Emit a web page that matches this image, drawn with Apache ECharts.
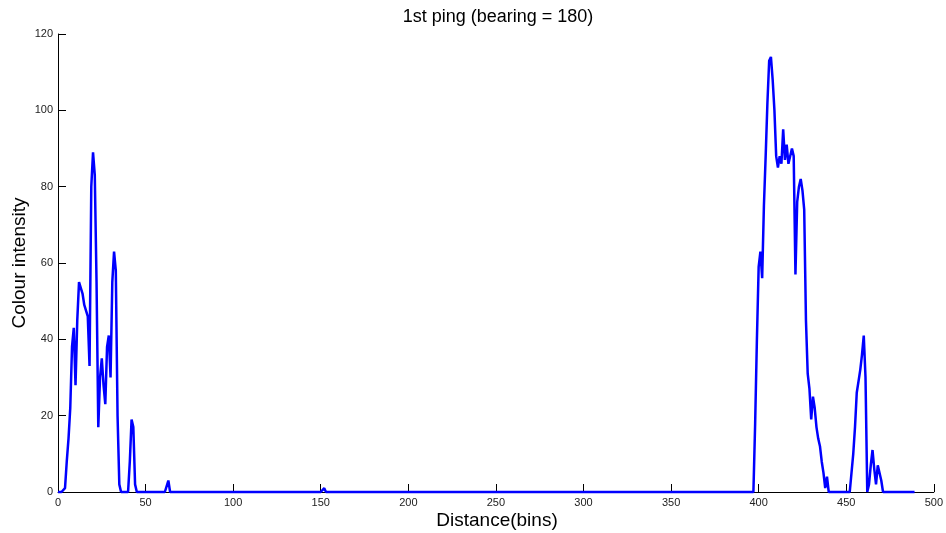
<!DOCTYPE html>
<html>
<head>
<meta charset="utf-8">
<title>1st ping (bearing = 180)</title>
<script src="https://cdn.jsdelivr.net/npm/echarts@6/dist/echarts.min.js"></script>
<style>
  html, body { margin: 0; padding: 0; background: #ffffff; }
  #chart { width: 946px; height: 533px; }
</style>
</head>
<body>
<div id="chart"></div>
<script>
// Sonar return intensity per range bin for the first ping.
const binCount = 490;

// Near-range echo (bins starting at nearEchoStart)
const nearEchoStart = 3;
const nearEcho = [
  0, 1, 8, 14, 22, 38, 43, 28, 45, 55,
  55, 52, 49, 49, 46, 33, 80, 89, 83, 55,
  17, 30, 35, 28, 23, 38, 41, 30, 55, 63,
  58, 20, 2, 0, 0, 0, 0, 0, 8, 19,
  17, 2, 0
];

// Isolated low-level returns
const clutterBins = [63, 152];
const clutterValues = [3, 1];

// Main far-range echo
const farEchoStart = 396;
const farEcho = [
  0, 0, 18, 40, 59, 63, 56, 75, 88, 102,
  113, 114, 108, 100, 88, 85, 88, 86, 95, 87,
  91, 86, 86, 90, 88, 57, 76, 80, 82, 79,
  74, 45, 31, 27, 19, 25, 22, 17, 14, 12,
  8, 5, 1, 4, 0
];

// Trailing echoes
const tailEchoStart = 452;
const tailEcho = [
  0, 0, 10, 17, 26, 29, 32, 36, 41, 30,
  0, 2, 7, 11, 6, 2, 7, 7, 3, 0
];

// Axis ticks
const xTicks = [0, 50, 100, 150, 200, 250, 300, 350, 400, 450, 500];
const yTicks = [0, 20, 40, 60, 80, 100, 120];

// Assemble the full intensity profile
const intensity = new Array(binCount).fill(0);
nearEcho.forEach((v, i) => { intensity[nearEchoStart + i] = v; });
clutterBins.forEach((b, i) => { intensity[b] = clutterValues[i]; });
farEcho.forEach((v, i) => { intensity[farEchoStart + i] = v; });
tailEcho.forEach((v, i) => { intensity[tailEchoStart + i] = v; });
const seriesData = intensity.map((v, i) => [i, v]);

const FONT = '"Liberation Sans", Arial, Helvetica, sans-serif';
const chart = echarts.init(document.getElementById('chart'), null, { renderer: 'canvas' });

chart.setOption({
  animation: false,
  backgroundColor: '#ffffff',
  grid: { left: 58, right: 8, top: 34, bottom: 41, containLabel: false },
  xAxis: {
    type: 'value',
    min: xTicks[0],
    max: xTicks[xTicks.length - 1],
    interval: xTicks[1] - xTicks[0],
    axisLine: { show: true, onZero: false, lineStyle: { color: '#000000', width: 1 } },
    axisTick: { show: true, inside: true, length: 8, lineStyle: { color: '#000000' } },
    axisLabel: { color: '#222222', fontFamily: FONT, fontSize: 11, margin: 5 },
    splitLine: { show: false }
  },
  yAxis: {
    type: 'value',
    min: yTicks[0],
    max: yTicks[yTicks.length - 1],
    interval: yTicks[1] - yTicks[0],
    axisLine: { show: true, onZero: false, lineStyle: { color: '#000000', width: 1 } },
    axisTick: { show: true, inside: true, length: 8, lineStyle: { color: '#000000' } },
    axisLabel: { color: '#222222', fontFamily: FONT, fontSize: 11, margin: 5 },
    splitLine: { show: false }
  },
  graphic: [
    {
      type: 'text', x: 498, y: 17,
      style: { text: '1st ping (bearing = 180)', fill: '#000000', font: '18px ' + FONT,
               textAlign: 'center', textVerticalAlign: 'middle' }
    },
    {
      type: 'text', x: 497, y: 521,
      style: { text: 'Distance(bins)', fill: '#000000', font: '19px ' + FONT,
               textAlign: 'center', textVerticalAlign: 'middle' }
    },
    {
      type: 'text', x: 20, y: 263, rotation: Math.PI / 2,
      style: { text: 'Colour intensity', fill: '#000000', font: '19px ' + FONT,
               textAlign: 'center', textVerticalAlign: 'middle' }
    }
  ],
  series: [{
    type: 'line',
    data: seriesData,
    showSymbol: false,
    symbol: 'none',
    lineStyle: { color: '#0000ff', width: 2.5 },
    clip: false
  }]
});
</script>
</body>
</html>
